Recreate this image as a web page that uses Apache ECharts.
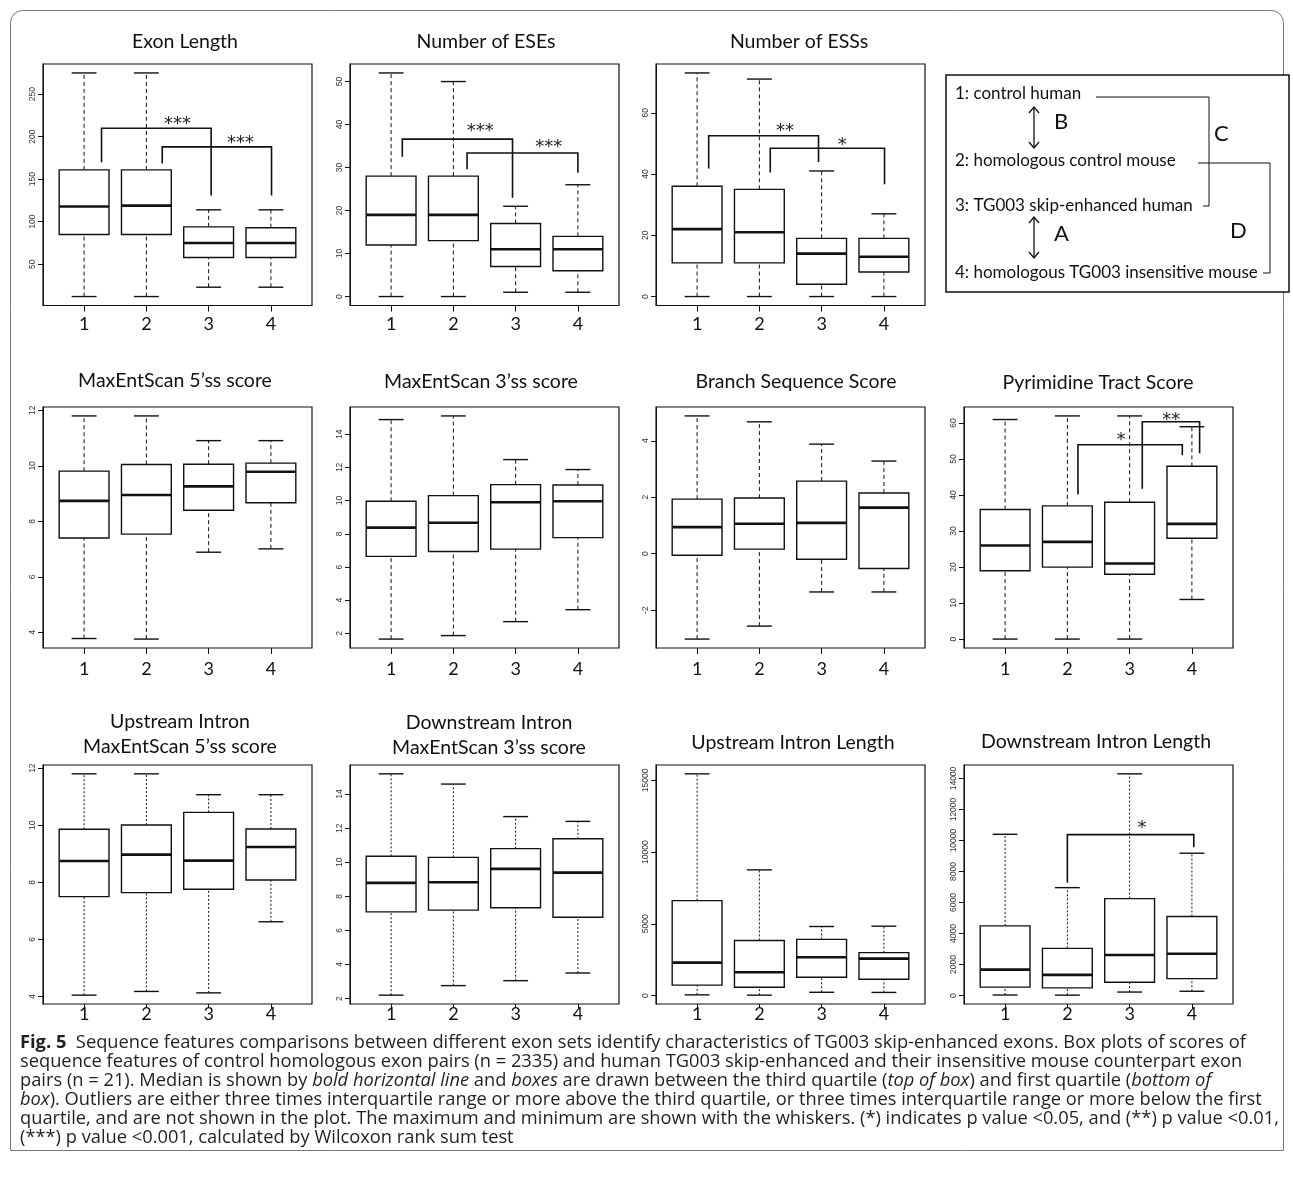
<!DOCTYPE html>
<html>
<head>
<meta charset="utf-8">
<script src="https://cdn.jsdelivr.net/npm/echarts@6/dist/echarts.min.js"></script>
<style>
html,body{margin:0;padding:0;background:#fff;}
#chart{width:1293px;height:1201px;}
</style>
</head>
<body>
<div id="chart"></div>
<script>
// ---------------- data ----------------
const groupPositions = [1, 2, 3, 4];
const groupLabels = ['1', '2', '3', '4'];

// each row: [min, Q1, median, Q3, max] for groups 1..4
const exonLengthStats = [[12, 85, 118, 161, 275], [12, 85, 119, 161, 275], [23, 58, 75, 94, 114], [23, 58, 75, 93, 114]];
const exonLengthTicks = [50, 100, 150, 200, 250];

const eseStats = [[0, 12, 19, 28, 52], [0, 13, 19, 28, 50], [1, 7, 11, 17, 21], [1, 6, 11, 14, 26]];
const eseTicks = [0, 10, 20, 30, 40, 50];

const essStats = [[0, 11, 22, 36, 73], [0, 11, 21, 35, 71], [0, 4, 14, 19, 41], [0, 8, 13, 19, 27]];
const essTicks = [0, 20, 40, 60];

const mes5Stats = [[3.78, 7.40, 8.74, 9.81, 11.80], [3.76, 7.54, 8.95, 10.05, 11.80], [6.89, 8.40, 9.26, 10.06, 10.91], [7.01, 8.67, 9.79, 10.10, 10.91]];
const mes5Ticks = [4, 6, 8, 10, 12];

const mes3Stats = [[1.66, 6.64, 8.37, 9.96, 14.88], [1.87, 6.93, 8.67, 10.30, 15.10], [2.71, 7.08, 9.90, 10.96, 12.47], [3.43, 7.77, 9.96, 10.94, 11.87]];
const mes3Ticks = [2, 4, 6, 8, 10, 12, 14];

const branchStats = [[-3.03, -0.06, 0.94, 1.93, 4.88], [-2.57, 0.16, 1.06, 1.97, 4.67], [-1.36, -0.20, 1.09, 2.57, 3.88], [-1.36, -0.53, 1.63, 2.15, 3.28]];
const branchTicks = [-2, 0, 2, 4];

const pyrStats = [[0, 19, 26, 36, 61], [0, 20, 27, 37, 62], [0, 18, 21, 38, 62], [11, 28, 32, 48, 59]];
const pyrTicks = [0, 10, 20, 30, 40, 50, 60];

const upMes5Stats = [[4.05, 7.50, 8.75, 9.86, 11.80], [4.18, 7.64, 8.97, 10.01, 11.80], [4.13, 7.76, 8.76, 10.45, 11.07], [6.62, 8.08, 9.24, 9.87, 11.07]];
const upMes5Ticks = [4, 6, 8, 10, 12];

const downMes3Stats = [[2.20, 7.09, 8.79, 10.35, 15.19], [2.76, 7.19, 8.83, 10.29, 14.59], [3.05, 7.33, 9.61, 10.80, 12.68], [3.50, 6.77, 9.39, 11.38, 12.40]];
const downMes3Ticks = [2, 4, 6, 8, 10, 12, 14];

const upLenStats = [[50, 727, 2299, 6613, 15450], [30, 580, 1627, 3843, 8760], [230, 1281, 2666, 3913, 4813], [220, 1143, 2576, 2992, 4834]];
const upLenTicks = [0, 5000, 10000, 15000];

const downLenStats = [[40, 545, 1675, 4498, 10402], [30, 500, 1335, 3048, 6962], [230, 866, 2618, 6256, 14300], [280, 1097, 2701, 5101, 9183]];
const downLenTicks = [0, 2000, 4000, 6000, 8000, 10000, 12000, 14000];

// significance brackets: [x from, x to, bar y, left foot y, right foot y, label x, label y, label]
const exonLengthSig = [[1.28, 3.04, 210, 170, 131, 2.50, 221, '***'], [2.255, 4.01, 188, 168.5, 131, 3.51, 198.6, '***']];
const eseSig = [[1.18, 2.95, 36.6, 32.5, 23, 2.43, 39.5, '***'], [2.22, 4.0, 33.4, 29.6, 28.8, 3.53, 35.8, '***']];
const essSig = [[1.186, 2.95, 52.5, 41.8, 43.9, 2.41, 55.6, '**'], [2.175, 4.01, 48.4, 40.5, 36.7, 3.33, 51, '*']];
const pyrSig = [[2.17, 3.846, 54, 40.2, 51.1, 2.86, 56.6, '*'], [3.203, 4.124, 60.4, 41.8, 51.6, 3.67, 62.3, '**']];
const downLenSig = [[2.0, 4.03, 10383, 7283, 9568, 3.2, 11130, '*']];

const legendItems = ['1: control human', '2: homologous control mouse', '3: TG003 skip-enhanced human', '4: homologous TG003 insensitive mouse'];

const captionLines = [
  '{b|Fig. 5}  Sequence features comparisons between different exon sets identify characteristics of TG003 skip-enhanced exons. Box plots of scores of',
  'sequence features of control homologous exon pairs (n = 2335) and human TG003 skip-enhanced and their insensitive mouse counterpart exon',
  'pairs (n = 21). Median is shown by {i|bold horizontal line} and {i|boxes} are drawn between the third quartile ({i|top of box}) and first quartile ({i|bottom of}',
  '{i|box}). Outliers are either three times interquartile range or more above the third quartile, or three times interquartile range or more below the first',
  'quartile, and are not shown in the plot. The maximum and minimum are shown with the whiskers. (*) indicates p value <0.05, and (**) p value <0.01,',
  '(***) p value <0.001, calculated by Wilcoxon rank sum test'
];

// ---------------- layout ----------------
const colLeft = [43, 350, 656, 964];
const rowTop = [64, 407, 765];
const rowHeight = [241.5, 241, 239];
const plotWidth = 269;
const xLabelMargin = [10, 12, 1];
const xTickLength = [6, 6, 4];

const panels = [
  {title: 'Exon Length', stats: exonLengthStats, ticks: exonLengthTicks, sig: exonLengthSig, row: 0, col: 0, tx: 185, ty: 42, dash: [4, 3]},
  {title: 'Number of ESEs', stats: eseStats, ticks: eseTicks, sig: eseSig, row: 0, col: 1, tx: 486, ty: 42, dash: [4, 3]},
  {title: 'Number of ESSs', stats: essStats, ticks: essTicks, sig: essSig, row: 0, col: 2, tx: 799, ty: 42, dash: [4, 3]},
  {title: 'MaxEntScan 5\u2019ss score', stats: mes5Stats, ticks: mes5Ticks, sig: null, row: 1, col: 0, tx: 175, ty: 381, dash: [4, 3]},
  {title: 'MaxEntScan 3\u2019ss score', stats: mes3Stats, ticks: mes3Ticks, sig: null, row: 1, col: 1, tx: 481, ty: 382, dash: [4, 3]},
  {title: 'Branch Sequence Score', stats: branchStats, ticks: branchTicks, sig: null, row: 1, col: 2, tx: 796, ty: 382, dash: [4, 3]},
  {title: 'Pyrimidine Tract Score', stats: pyrStats, ticks: pyrTicks, sig: pyrSig, row: 1, col: 3, tx: 1098, ty: 383, dash: [4, 3]},
  {title: 'Upstream Intron\nMaxEntScan 5\u2019ss score', stats: upMes5Stats, ticks: upMes5Ticks, sig: null, row: 2, col: 0, tx: 180, ty: 734, dash: [2, 2]},
  {title: 'Downstream Intron\nMaxEntScan 3\u2019ss score', stats: downMes3Stats, ticks: downMes3Ticks, sig: null, row: 2, col: 1, tx: 489, ty: 735, dash: [2, 2]},
  {title: 'Upstream Intron Length', stats: upLenStats, ticks: upLenTicks, sig: null, row: 2, col: 2, tx: 793, ty: 743, dash: [2, 2]},
  {title: 'Downstream Intron Length', stats: downLenStats, ticks: downLenTicks, sig: downLenSig, row: 2, col: 3, tx: 1096, ty: 742, dash: [2, 2]}
];

const grids = [], xAxes = [], yAxes = [], series = [], titles = [];

function makeBoxRenderer(dash) {
  return function (params, api) {
    const x = api.value(0);
    const mn = api.value(1), q1 = api.value(2), md = api.value(3), q3 = api.value(4), mx = api.value(5);
    const hw = 0.4, cw = 0.2;
    const c = (a, b) => api.coord([a, b]);
    const seg = (p1, p2) => ({x1: p1[0], y1: p1[1], x2: p2[0], y2: p2[1]});
    const tl = c(x - hw, q3), br = c(x + hw, q1);
    return {
      type: 'group',
      children: [
        {type: 'line', shape: seg(c(x, q3), c(x, mx)), style: {stroke: '#111', lineWidth: 1, lineDash: dash}},
        {type: 'line', shape: seg(c(x, mn), c(x, q1)), style: {stroke: '#111', lineWidth: 1, lineDash: dash}},
        {type: 'line', shape: seg(c(x - cw, mx), c(x + cw, mx)), style: {stroke: '#111', lineWidth: 1.4}},
        {type: 'line', shape: seg(c(x - cw, mn), c(x + cw, mn)), style: {stroke: '#111', lineWidth: 1.4}},
        {type: 'rect', shape: {x: tl[0], y: tl[1], width: br[0] - tl[0], height: br[1] - tl[1]}, style: {fill: '#fff', stroke: '#111', lineWidth: 1.4}},
        {type: 'line', shape: seg(c(x - hw, md), c(x + hw, md)), style: {stroke: '#111', lineWidth: 2.6}}
      ]
    };
  };
}

function makeSigRenderer(sig) {
  return function (params, api) {
    const b = sig[params.dataIndex];
    const c = (a, v) => api.coord([a, v]);
    const p0 = c(b[0], b[3]), p1 = c(b[0], b[2]), p2 = c(b[1], b[2]), p3 = c(b[1], b[4]);
    const t = c(b[5], b[6]);
    return {
      type: 'group',
      children: [
        {type: 'polyline', shape: {points: [p0, p1, p2, p3]}, style: {stroke: '#111', lineWidth: 1.6, fill: null}},
        {type: 'text', x: t[0], y: t[1] + 5, style: {text: b[7], fill: '#222', font: '18px "DejaVu Sans"', textAlign: 'center', textVerticalAlign: 'middle'}}
      ]
    };
  };
}

panels.forEach((p, i) => {
  let lo = Infinity, hi = -Infinity;
  p.stats.forEach(s => { lo = Math.min(lo, s[0]); hi = Math.max(hi, s[4]); });
  const pad = 0.04 * (hi - lo);
  grids.push({
    left: colLeft[p.col], top: rowTop[p.row], width: plotWidth, height: rowHeight[p.row],
    show: true, borderColor: '#111', borderWidth: 1.2, backgroundColor: 'transparent',
    containLabel: false, outerBoundsMode: 'none'
  });
  xAxes.push({
    gridIndex: i, type: 'value', min: 0.34, max: 4.66, position: 'bottom',
    axisLine: {show: false, onZero: false}, splitLine: {show: false},
    axisTick: {show: true, customValues: groupPositions, length: xTickLength[p.row], lineStyle: {color: '#111', width: 1}},
    axisLabel: {
      show: true, customValues: groupPositions, margin: xLabelMargin[p.row],
      fontSize: 18, fontFamily: 'Lato', color: '#111',
      formatter: v => groupLabels[groupPositions.indexOf(v)] || ''
    }
  });
  yAxes.push({
    gridIndex: i, type: 'value', min: lo - pad, max: hi + pad, position: 'left',
    axisLine: {show: true, onZero: false, lineStyle: {color: '#111', width: 1}}, splitLine: {show: false},
    axisTick: {show: true, customValues: p.ticks, length: 5, lineStyle: {color: '#111', width: 1}},
    axisLabel: {show: true, customValues: p.ticks, rotate: 90, margin: 6, fontSize: 8.5, fontFamily: 'Liberation Sans', color: '#333', formatter: v => String(v)}
  });
  series.push({
    type: 'custom', name: p.title, xAxisIndex: i, yAxisIndex: i,
    data: p.stats.map((s, k) => [groupPositions[k]].concat(s)),
    encode: {x: 0, y: [1, 2, 3, 4, 5]},
    renderItem: makeBoxRenderer(p.dash), silent: true, z: 2
  });
  if (p.sig) {
    series.push({
      type: 'custom', xAxisIndex: i, yAxisIndex: i,
      data: p.sig.map(b => b.slice(0, 7)),
      encode: {x: [0, 1, 5], y: [2, 3, 4, 6]},
      renderItem: makeSigRenderer(p.sig), silent: true, z: 3
    });
  }
  titles.push({
    text: p.title, left: p.tx, top: p.ty, padding: 0,
    textAlign: 'center', textVerticalAlign: 'middle',
    textStyle: {fontFamily: 'Lato', fontSize: 19.5, fontWeight: 'normal', color: '#111', lineHeight: 25}
  });
});

// legend box (drawn as a graphic panel)
const legendYs = [94, 161, 206, 273];
const graphics = [
  {type: 'rect', shape: {x: 10.5, y: 10.5, width: 1273, height: 1140, r: [12, 12, 0, 0]}, style: {fill: null, stroke: '#777', lineWidth: 1}, silent: true},
  {type: 'rect', shape: {x: 946, y: 75, width: 343, height: 217}, style: {fill: '#fff', stroke: '#111', lineWidth: 1.5}},
  {type: 'polyline', shape: {points: [[1096, 97], [1209, 97], [1209, 206], [1203, 206]]}, style: {stroke: '#111', lineWidth: 1, fill: null}},
  {type: 'polyline', shape: {points: [[1198, 163], [1270, 163], [1270, 273], [1263, 273]]}, style: {stroke: '#111', lineWidth: 1, fill: null}},
  {type: 'line', shape: {x1: 1034, y1: 107, x2: 1034, y2: 148}, style: {stroke: '#111', lineWidth: 1.3}},
  {type: 'polyline', shape: {points: [[1029, 113], [1034, 107], [1039, 113]]}, style: {stroke: '#111', lineWidth: 1.3, fill: null}},
  {type: 'polyline', shape: {points: [[1029, 142], [1034, 148], [1039, 142]]}, style: {stroke: '#111', lineWidth: 1.3, fill: null}},
  {type: 'line', shape: {x1: 1034, y1: 217, x2: 1034, y2: 258}, style: {stroke: '#111', lineWidth: 1.3}},
  {type: 'polyline', shape: {points: [[1029, 223], [1034, 217], [1039, 223]]}, style: {stroke: '#111', lineWidth: 1.3, fill: null}},
  {type: 'polyline', shape: {points: [[1029, 252], [1034, 258], [1039, 252]]}, style: {stroke: '#111', lineWidth: 1.3, fill: null}},
  {type: 'text', style: {x: 1054, y: 122, text: 'B', font: '22px Lato', fill: '#111', textVerticalAlign: 'middle'}},
  {type: 'text', style: {x: 1054, y: 234, text: 'A', font: '22px Lato', fill: '#111', textVerticalAlign: 'middle'}},
  {type: 'text', style: {x: 1214, y: 134, text: 'C', font: '22px Lato', fill: '#111', textVerticalAlign: 'middle'}},
  {type: 'text', style: {x: 1230, y: 231, text: 'D', font: '22px Lato', fill: '#111', textVerticalAlign: 'middle'}}
];
legendItems.forEach((t, k) => {
  graphics.push({type: 'text', style: {x: 955, y: legendYs[k], text: t, font: '17px Lato', fill: '#111', textVerticalAlign: 'middle'}});
});
captionLines.forEach((t, k) => {
  graphics.push({
    type: 'text',
    style: {
      x: 20, y: 1043 + k * 19, text: t, font: '18.3px "Open Sans"', fill: '#231f20', textVerticalAlign: 'middle',
      rich: {
        b: {fontWeight: 'bold', fontSize: 18.3, fontFamily: 'Open Sans', fill: '#231f20'},
        i: {fontStyle: 'italic', fontSize: 18.3, fontFamily: 'Open Sans', fill: '#231f20'}
      }
    }
  });
});

const chart = echarts.init(document.getElementById('chart'), null, {renderer: 'canvas'});
chart.setOption({
  animation: false,
  backgroundColor: '#fff',
  title: titles,
  grid: grids,
  xAxis: xAxes,
  yAxis: yAxes,
  series: series,
  graphic: graphics
});
</script>
</body>
</html>
